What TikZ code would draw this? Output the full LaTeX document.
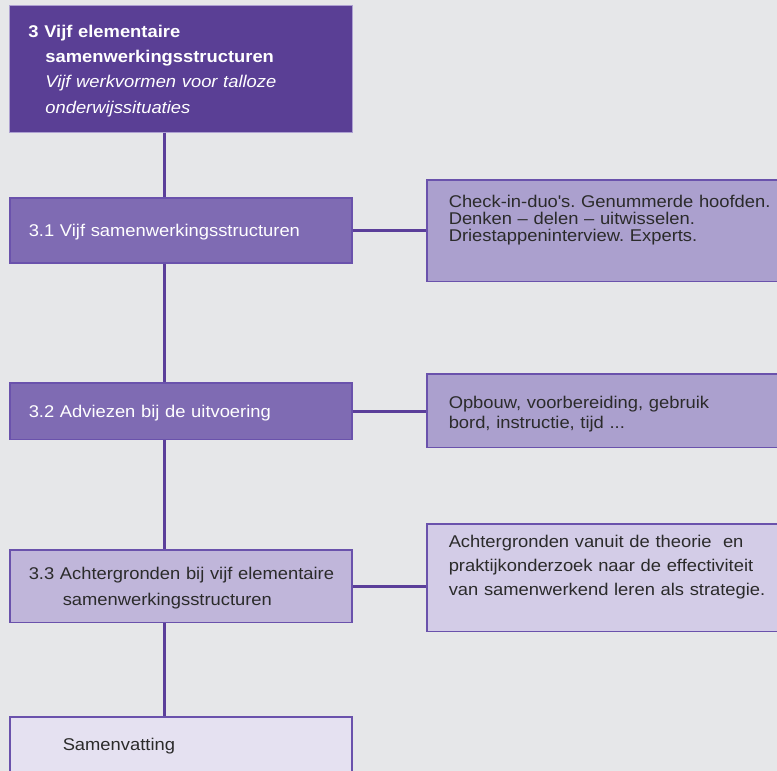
\documentclass[tikz,border=0pt]{standalone}
\usepackage{fontspec}
\setmainfont{Liberation Sans}[FakeStretch=1.08]
\usetikzlibrary{calc}
\frenchspacing

\definecolor{achtergrond}{HTML}{E6E7E9}
\definecolor{verbinding}{HTML}{5B3F9A}
\definecolor{rand}{HTML}{6A52AC}
\definecolor{paars1}{HTML}{5A3F95}
\definecolor{paars2}{HTML}{7F6BB3}
\definecolor{paars3}{HTML}{ABA0CE}
\definecolor{paars4}{HTML}{C0B6DA}
\definecolor{paars5}{HTML}{D3CCE7}
\definecolor{paars6}{HTML}{E5E1F1}
\definecolor{tekst}{HTML}{2B2B2B}

\begin{document}
\begin{tikzpicture}[x=1pt, y=-1pt,
    vak/.style={rectangle, draw=rand, line width=1.5pt, anchor=north west, align=left,
      inner xsep=19pt, font=\fontsize{17}{20}\selectfont},
    links/.style={vak, text width=304pt},
    rechts/.style={vak, inner xsep=22pt, text width=340pt, text=tekst},
    lijn/.style={draw=verbinding, line width=3pt}]
  \useasboundingbox (0,0) rectangle (777,771);
  \fill[achtergrond] (0,0) rectangle (777,771);

  % hoofdstuk
  \node[vak, fill=paars1, draw=rand!55, line width=0.8pt, text=white, text width=305pt,
    inner ysep=19.6pt, text depth=75.4pt, font=\fontsize{17}{25.3}\selectfont] (hoofd) at (9,5)
    {\textbf{3 Vijf elementaire}\\\hspace*{17pt}\textbf{samenwerkingsstructuren}\\
     \hspace*{17pt}\textit{Vijf werkvormen voor talloze}\\\hspace*{17pt}\textit{onderwijssituaties}};

  % paragrafen
  \node[links, fill=paars2, text=white, inner ysep=26.5pt, text depth=0pt] (p31) at (9,197)
    {3.1 Vijf samenwerkingsstructuren};
  \node[links, fill=paars2, text=white, inner ysep=22.3pt, text depth=0pt] (p32) at (9,382)
    {3.2 Adviezen bij de uitvoering};
  \node[links, fill=paars4, text=tekst, inner ysep=17.6pt, text depth=25.4pt,
    font=\fontsize{17}{26}\selectfont] (p33) at (9,549)
    {\mbox{3.3 Achtergronden bij vijf elementaire}\\\hspace*{34pt}samenwerkingsstructuren};
  \node[links, fill=paars6, text=tekst, inner ysep=21.6pt, text depth=18.4pt] (sam) at (9,716)
    {\hspace*{34pt}Samenvatting};

  % toelichtingen
  \node[rechts, fill=paars3, inner ysep=15.8pt, text depth=57.9pt,
    font=\fontsize{17}{17}\selectfont] (t31) at (426,179)
    {Check-in-duo\textquotesingle s. Genummerde hoofden.\\Denken – delen – uitwisselen.\\Driestappeninterview. Experts.};
  \node[rechts, fill=paars3, inner ysep=22.2pt, text depth=17.1pt,
    font=\fontsize{17}{20.6}\selectfont] (t32) at (426,373)
    {Opbouw, voorbereiding, gebruik\\bord, instructie, tijd ...};
  \node[rechts, fill=paars5, inner ysep=11.2pt, text depth=73.1pt,
    font=\fontsize{17}{24.2}\selectfont] (t33) at (426,523)
    {Achtergronden vanuit de theorie~ en\\praktijkonderzoek naar de effectiviteit\\van samenwerkend leren als strategie.};

  % verbindingen
  \coordinate (stam) at (164,0);
  \foreach \a/\b in {hoofd/p31, p31/p32, p32/p33, p33/sam}
    \draw[lijn] (\a.south -| stam) -- (\b.north -| stam);
  \foreach \a/\b in {p31/t31, p32/t32, p33/t33}
    \draw[lijn] (\a.east) -- (\a.east -| \b.west);
\end{tikzpicture}
\end{document}
